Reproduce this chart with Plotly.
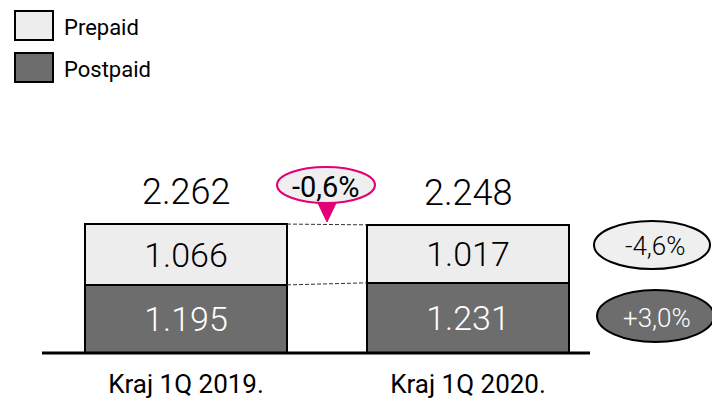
import plotly.graph_objects as go

categories = ["Kraj 1Q 2019.", "Kraj 1Q 2020."]
prepaid = [1066, 1017]
postpaid = [1195, 1231]
totals = [2262, 2248]
series_names = ["Prepaid", "Postpaid"]

W, H = 712, 401
B = 48
PH = H - B  # plot height in px

def px(xp):
    return xp / W

def py(yp):
    return (PH - yp) / PH

def pct(a, b):
    v = (b / a - 1) * 100
    s = f"{v:+.1f}".replace(".", ",")
    return s + "%"

c_pre = "#ededed"
c_post = "#6d6d6d"
FONT_NUM = "Roboto"
FONT_LAB = "Roboto"
WT = 300

bar_w = 202 / 282
x_idx = list(range(len(categories)))

fig = go.Figure()
fig.add_trace(go.Bar(
    x=x_idx, y=postpaid, name=series_names[1], width=bar_w,
    marker=dict(color=c_post, line=dict(color="black", width=2)),
    texttemplate="%{y:,.0f}", textposition="inside", insidetextanchor="middle",
    textangle=0, constraintext="none",
    textfont=dict(family=FONT_NUM, size=34, color="white", weight=WT),
    showlegend=False, hoverinfo="skip",
))
fig.add_trace(go.Bar(
    x=x_idx, y=prepaid, name=series_names[0], width=bar_w,
    marker=dict(color=c_pre, line=dict(color="black", width=2)),
    texttemplate="%{y:,.0f}", textposition="inside", insidetextanchor="middle",
    textangle=0, constraintext="none",
    textfont=dict(family=FONT_NUM, size=34, color="black", weight=WT),
    showlegend=False, hoverinfo="skip",
))

shapes = []
annotations = []

# totals above bars
for i, t in enumerate(totals):
    annotations.append(dict(
        x=i, y=t, xref="x", yref="y", text=f"{t:,.0f}".replace(",", "."),
        showarrow=False, xanchor="center", yanchor="bottom", yshift=9,
        font=dict(family=FONT_NUM, size=36, color="black", weight=WT),
    ))

# dashed connectors
half = bar_w / 2
for y0, y1 in [(totals[0], totals[1]), (postpaid[0], postpaid[1])]:
    shapes.append(dict(type="line", xref="x", yref="y",
                       x0=0 + half, x1=1 - half, y0=y0, y1=y1,
                       line=dict(color="#333333", width=1, dash="4px,2px")))

# baseline
shapes.append(dict(type="line", xref="paper", yref="paper",
                   x0=px(42), x1=px(590), y0=py(353), y1=py(353),
                   line=dict(color="black", width=3), layer="above"))

# magenta callout
mag = "#e20074"
shapes.append(dict(type="path", xref="paper", yref="paper",
                   path=f"M {px(317)} {py(201)} L {px(327)} {py(222)} L {px(337)} {py(201)} Z",
                   fillcolor=mag, line=dict(color=mag, width=1)))
shapes.append(dict(type="circle", xref="paper", yref="paper",
                   x0=px(277), x1=px(375), y0=py(203), y1=py(167),
                   fillcolor="#efefef", line=dict(color=mag, width=2)))
annotations.append(dict(x=px(326), y=py(187), xref="paper", yref="paper",
                        text=pct(totals[0], totals[1]), showarrow=False,
                        xanchor="center", yanchor="middle",
                        font=dict(family=FONT_NUM, size=29, color="black", weight=400)))

# right side ellipses
shapes.append(dict(type="circle", xref="paper", yref="paper",
                   x0=px(594), x1=px(710), y0=py(269), y1=py(221),
                   fillcolor="#efefef", line=dict(color="black", width=2)))
annotations.append(dict(x=px(655), y=py(246), xref="paper", yref="paper",
                        text=pct(prepaid[0], prepaid[1]), showarrow=False,
                        xanchor="center", yanchor="middle",
                        font=dict(family=FONT_NUM, size=26, color="black", weight=WT)))
shapes.append(dict(type="circle", xref="paper", yref="paper",
                   x0=px(597), x1=px(714), y0=py(342), y1=py(290),
                   fillcolor=c_post, line=dict(color="black", width=2)))
annotations.append(dict(x=px(657), y=py(318), xref="paper", yref="paper",
                        text=pct(postpaid[0], postpaid[1]), showarrow=False,
                        xanchor="center", yanchor="middle",
                        font=dict(family=FONT_NUM, size=26, color="white", weight=WT)))

# custom legend
for name, col, top in [(series_names[0], c_pre, 11), (series_names[1], c_post, 53)]:
    shapes.append(dict(type="rect", xref="paper", yref="paper",
                       x0=px(15), x1=px(53), y0=py(top + 29), y1=py(top),
                       fillcolor=col, line=dict(color="black", width=2)))
    annotations.append(dict(x=px(62), y=py(top + 16), xref="paper", yref="paper",
                            text=name, showarrow=False, xanchor="left", yanchor="middle",
                            font=dict(family=FONT_LAB, size=22, color="black", weight=400)))

fig.update_layout(
    width=W, height=H,
    margin=dict(l=0, r=0, t=0, b=B, pad=0),
    barmode="stack",
    separators=",.",
    plot_bgcolor="white", paper_bgcolor="white",
    shapes=shapes, annotations=annotations,
    xaxis=dict(range=[-186 / 282, -186 / 282 + W / 282], tickvals=x_idx,
               ticktext=categories, showgrid=False, zeroline=False,
               showline=False, ticks="", ticklabelstandoff=13, automargin=False,
               tickfont=dict(family=FONT_LAB, size=26, color="black", weight=400),
               fixedrange=True),
    yaxis=dict(range=[0, PH / (57 / 1000)], visible=False, fixedrange=True,
               automargin=False),
)
fig.write_html("out.html", config={"displayModeBar": False},
               post_script="document.body.style.margin='0px';document.body.style.overflow='hidden';")
